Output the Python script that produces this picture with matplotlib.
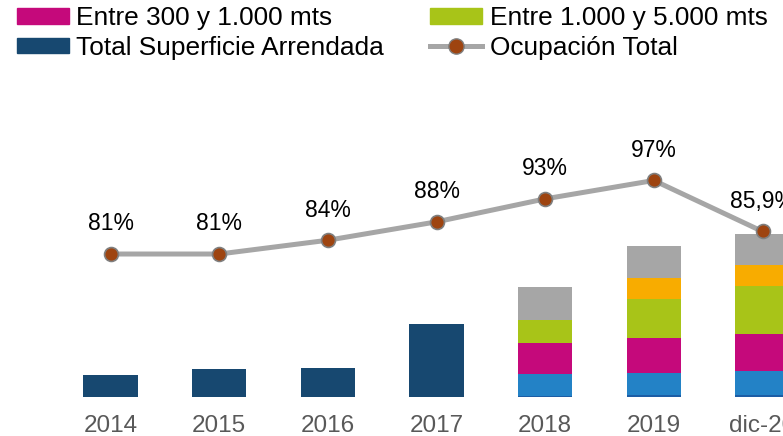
import matplotlib
matplotlib.use("Agg")
import matplotlib.pyplot as plt
from matplotlib.patches import Patch
from matplotlib.lines import Line2D
import numpy as np

# categories and values (arbitrary surface units)
categories = ["2014", "2015", "2016", "2017", "2018", "2019", "dic-20"]
total_superficie = [22, 28, 29, 73, 0, 0, 0]
seg_dark = [0, 0, 0, 0, 1, 2, 2]
seg_blue = [0, 0, 0, 0, 22, 22, 24]
seg_300_1000 = [0, 0, 0, 0, 31, 35, 37]
seg_1000_5000 = [0, 0, 0, 0, 23, 39, 48]
seg_orange = [0, 0, 0, 0, 0, 21, 21]
seg_gray = [0, 0, 0, 0, 33, 32, 31]
ocupacion = [81, 81, 84, 88, 93, 97, 85.9]
ocupacion_labels = ["81%", "81%", "84%", "88%", "93%", "97%", "85,9%"]

C_DARKBLUE = "#174870"
C_DARK = "#1C5DA5"
C_BLUE = "#2382C6"
C_MAGENTA = "#C5097B"
C_GREEN = "#A8C418"
C_ORANGE = "#F8AC00"
C_GRAY = "#A6A6A6"
C_MARKER = "#9E4410"

plt.rcParams['font.family'] = ['Liberation Sans', 'DejaVu Sans']

W, H = 783, 436
fig = plt.figure(figsize=(W / 100, H / 100), dpi=100)
ax = fig.add_axes([56.2 / W, 39 / H, 760.7 / W, 297 / H])

x = np.arange(len(categories))
width = 0.5

ax.bar(x, total_superficie, width, color=C_DARKBLUE)
bottom = np.zeros(len(categories))
for vals, col in [(seg_dark, C_DARK), (seg_blue, C_BLUE), (seg_300_1000, C_MAGENTA),
                  (seg_1000_5000, C_GREEN), (seg_orange, C_ORANGE), (seg_gray, C_GRAY)]:
    ax.bar(x, vals, width, bottom=bottom, color=col)
    bottom += np.array(vals)

ax.set_xlim(-0.5, 6.5)
ax.set_ylim(0, 297)
ax.set_yticks([])
ax.set_xticks(x)
ax.set_xticklabels(categories, fontsize=17.5, color="#595959")
ax.tick_params(axis='x', length=0, pad=13)
for s in ax.spines.values():
    s.set_visible(False)

# occupancy line on secondary axis
ax2 = ax.twinx()
ax2.plot(x, ocupacion, color=C_GRAY, lw=3.6, marker='o', markersize=10,
         markerfacecolor=C_MARKER, markeredgecolor="#7F7F7F", markeredgewidth=1.2,
         solid_capstyle='butt')
ax2.set_ylim(49.9, 114.5)
ax2.set_yticks([])
for s in ax2.spines.values():
    s.set_visible(False)
for xi, yi, lab in zip(x, ocupacion, ocupacion_labels):
    ax2.annotate(lab, (xi, yi), xytext=(0, 17), textcoords='offset points',
                 ha='center', va='baseline', fontsize=16.5, color='black')

# legend (visible entries)
handles = [
    Patch(color=C_MAGENTA),
    Patch(color=C_DARKBLUE),
    Patch(color=C_GREEN),
    Line2D([], [], color=C_GRAY, lw=3.6, marker='o', markersize=11,
           markerfacecolor=C_MARKER, markeredgecolor="#7F7F7F"),
]
labels = ["Entre 300 y 1.000 mts", "Total Superficie Arrendada",
          "Entre 1.000 y 5.000 mts", "Ocupación Total"]
fig.legend(handles, labels, ncol=2, loc='upper left',
           bbox_to_anchor=(16.7 / W, 1 - 6 / H), frameon=False,
           prop={'size': 18.9},
           handlelength=2.0, handleheight=0.55, handletextpad=0.27,
           columnspacing=1.75, labelspacing=0.22, borderpad=0, borderaxespad=0)

fig.savefig("out.png", dpi=100)
